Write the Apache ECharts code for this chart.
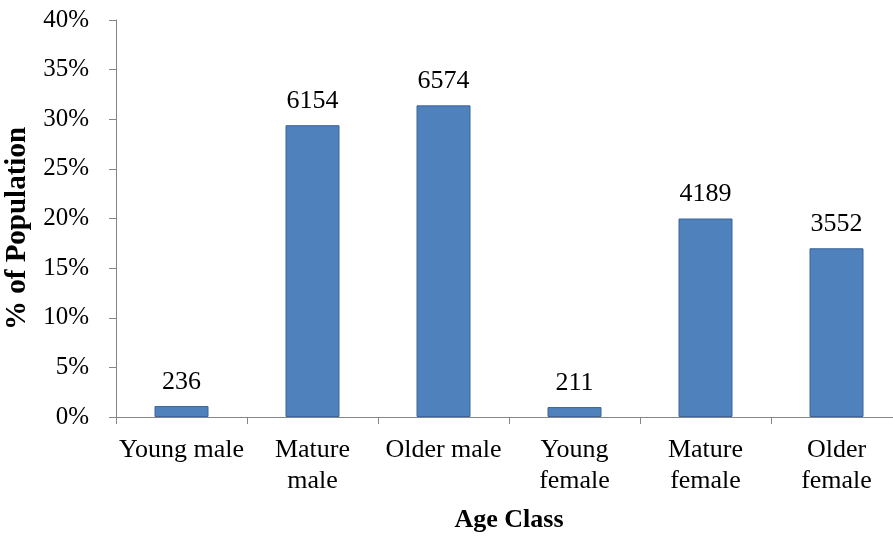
<!DOCTYPE html>
<html>
<head>
<meta charset="utf-8">
<script src="https://cdn.jsdelivr.net/npm/echarts@6/dist/echarts.min.js"></script>
<style>
html,body{margin:0;padding:0;background:#fff;}
#wrap{width:893px;height:537px;overflow:hidden;position:relative;}
#chart{width:910px;height:537px;position:absolute;left:0;top:0;}
</style>
</head>
<body>
<div id="wrap"><div id="chart"></div></div>
<script>
var categories = ["Young male", "Mature\nmale", "Older male", "Young\nfemale", "Mature\nfemale", "Older\nfemale"];
var percents = [1.1, 29.4, 31.4, 1.0, 20.0, 17.0];
var counts = [236, 6154, 6574, 211, 4189, 3552];
var yTicks = [0, 5, 10, 15, 20, 25, 30, 35, 40];

var font = "'Liberation Serif', 'Times New Roman', serif";
var myChart = echarts.init(document.getElementById('chart'));
// the last category ends past the right edge of the picture, so the chart div is wider and clipped
var option = {
	animation: false,
	grid: {
		left: 116,
		right: 8,
		top: 20,
		bottom: 120,
		containLabel: false,
		outerBoundsMode: 'none'
	},
	xAxis: {
		type: 'category',
		data: categories,
		name: 'Age Class',
		nameLocation: 'middle',
		nameGap: 90,
		nameTextStyle: {fontFamily: font, fontSize: 26, fontWeight: 'bold', color: '#000'},
		axisLine: {lineStyle: {color: '#868686', width: 1}},
		axisTick: {show: true, length: 7, lineStyle: {color: '#868686'}},
		axisLabel: {fontFamily: font, fontSize: 26, color: '#000', lineHeight: 31, margin: 18, interval: 0}
	},
	yAxis: {
		type: 'value',
		min: yTicks[0],
		max: yTicks[yTicks.length - 1],
		interval: 5,
		name: '% of Population',
		nameLocation: 'middle',
		nameGap: 66,
		nameTextStyle: {fontFamily: font, fontSize: 29, fontWeight: 'bold', color: '#000', padding: [0, 20, 0, 0]},
		axisLine: {show: true, lineStyle: {color: '#868686', width: 1}},
		axisTick: {show: true, length: 7, inside: false, lineStyle: {color: '#868686'}},
		splitLine: {show: false},
		axisLabel: {fontFamily: font, fontSize: 25, color: '#000', margin: 27, formatter: '{value}%'}
	},
	series: [
		{
			type: 'bar',
			data: percents,
			barWidth: 54,
			itemStyle: {color: '#4F81BD', borderColor: '#3A6596', borderWidth: 1},
			label: {
				show: true,
				position: 'top',
				distance: 11,
				fontFamily: font,
				fontSize: 26,
				color: '#000',
				formatter: function(p){ return counts[p.dataIndex]; }
			}
		}
	]
};
myChart.setOption(option, true);
</script>
</body>
</html>
